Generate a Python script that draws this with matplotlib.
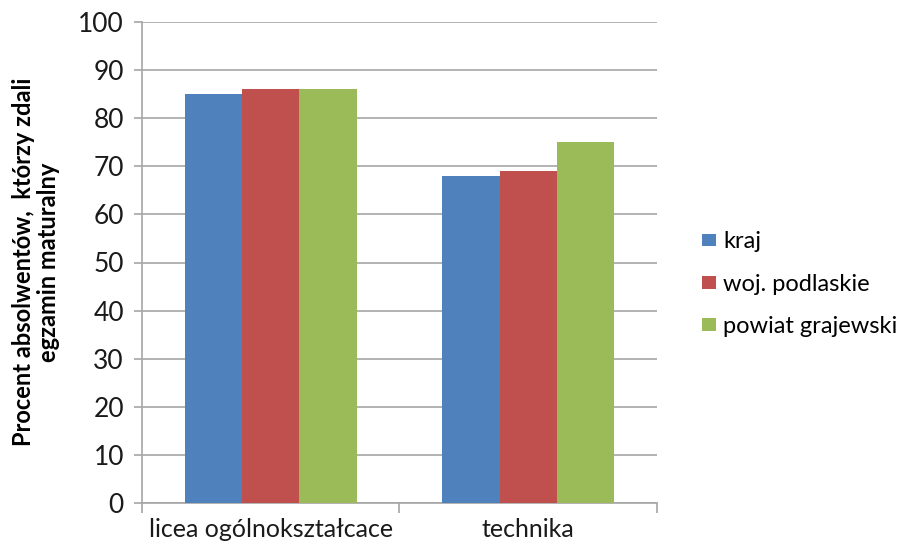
import numpy as np
import matplotlib.pyplot as plt

categories = ["licea ogólnokształcace", "technika"]
series = ["kraj", "woj. podlaskie", "powiat grajewski"]
kraj = [85, 68]
podlaskie = [86, 69]
grajewski = [86, 75]
colors = ["#4f81bd", "#c0504d", "#9bbb59"]

plt.rcParams["font.family"] = ["Lato", "DejaVu Sans"]

fig = plt.figure(figsize=(9.04, 5.46), dpi=100)
ax = fig.add_axes([142 / 904, 43 / 546, 515 / 904, 481 / 546])

x = np.arange(len(categories))
width = 2 / 9
for i, (name, vals) in enumerate(zip(series, [kraj, podlaskie, grajewski])):
    ax.bar(x + (i - 1) * width, vals, width, color=colors[i], label=name, zorder=3)

ax.set_xlim(-0.5, 1.5)
ax.set_ylim(0, 100)
ax.set_yticks(range(0, 101, 10))
ax.yaxis.grid(True, color="#a6a6a6", linewidth=1.2, zorder=0)

ax.set_xticks([-0.5, 0.5, 1.5])
ax.set_xticklabels([])
ax.set_xticks(x, minor=True)
ax.set_xticklabels(categories, minor=True, fontsize=18, color="#1a1a1a")
ax.tick_params(axis="x", which="minor", length=0, pad=11)
ax.tick_params(axis="x", which="major", length=7, color="#a6a6a6", width=1.2)
ax.tick_params(axis="y", length=6, color="#a6a6a6", width=1.2, labelsize=19,
               labelcolor="#1a1a1a", pad=7)

for side in ["top", "right"]:
    ax.spines[side].set_visible(False)
for side in ["left", "bottom"]:
    ax.spines[side].set_color("#a6a6a6")
    ax.spines[side].set_linewidth(1.2)

fig.text(36 / 904, 284 / 546, "Procent absolwentów,  którzy zdali\negzamin maturalny",
         rotation=90, ha="center", va="center", fontsize=17, fontweight="bold",
         linespacing=1.1)

ax.legend(loc="center left", bbox_to_anchor=(1.055, 0.455), frameon=False,
          fontsize=17, handlelength=0.6, handleheight=0.45, handletextpad=0.3,
          labelspacing=0.9, borderpad=0.2)

fig.savefig("out.png", dpi=100)
